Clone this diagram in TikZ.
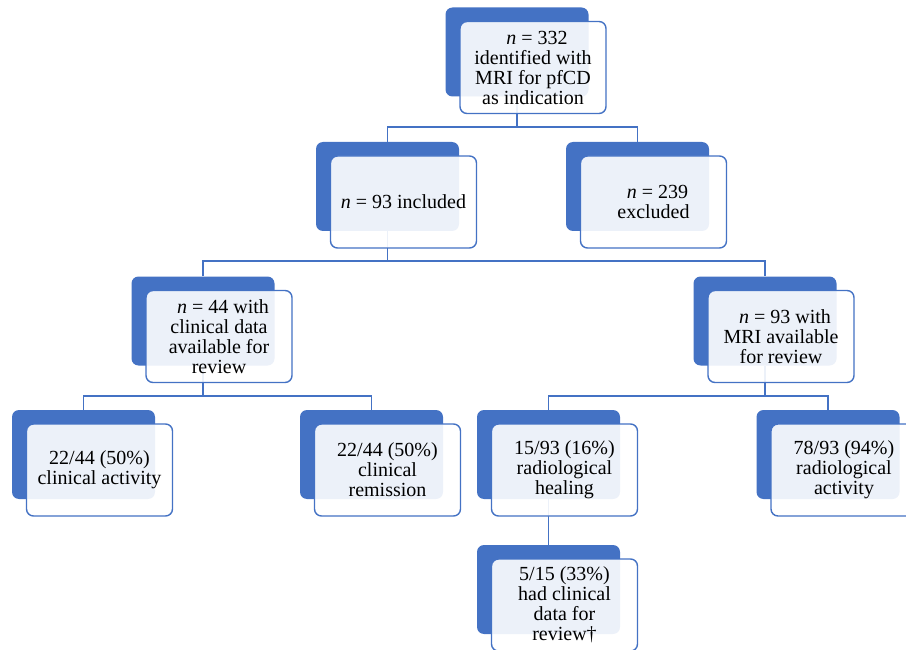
\documentclass[tikz,border=0pt]{standalone}
\usepackage{fontspec}
\setmainfont{Liberation Serif}
\usepackage{xcolor}
\usetikzlibrary{backgrounds}

\definecolor{boxblue}{HTML}{4472C4}

\tikzset{
    backbox/.style = {rectangle, rounded corners = 7pt, fill = boxblue,
        minimum width = 143pt, minimum height = 89pt, inner sep = 0pt},
    frontbox/.style = {rectangle, rounded corners = 7pt, draw = boxblue, line width = 1.4pt,
        fill = white, fill opacity = 0.9, text opacity = 1,
        minimum width = 146pt, minimum height = 92pt, inner sep = 0pt, align = center,
        font = \fontsize{20}{20}\selectfont},
    link/.style = {draw = boxblue, line width = 1.4pt}
}

\begin{document}
\begin{tikzpicture}[x = 1pt, y = -1pt]
        \useasboundingbox (0, 0) rectangle (906, 650);

        \node[backbox] (b332) at (517, 52) {};
        \node[frontbox] (f332) at ([shift = {(16, 15.5)}]b332)
            {\hspace*{8pt}\textit{n} = 332\\identified with\\MRI for pfCD\\as indication};

        \node[backbox] (b93i) at (387.5, 186.5) {};
        \node[frontbox] (f93i) at ([shift = {(16, 15.5)}]b93i)
            {\textit{n} = 93 included};
        \node[backbox] (b239) at (637.5, 186.5) {};
        \node[frontbox] (f239) at ([shift = {(16, 15.5)}]b239)
            {\hspace*{8pt}\textit{n} = 239\\excluded};

        \node[backbox] (b44) at (203, 321) {};
        \node[frontbox] (f44) at ([shift = {(16, 15.5)}]b44)
            {\hspace*{8pt}\textit{n} = 44 with\\clinical data\\available for\\review};
        \node[backbox] (bmri) at (765, 321) {};
        \node[frontbox] (fmri) at ([shift = {(16, 15.5)}]bmri)
            {\hspace*{8pt}\textit{n} = 93 with\\MRI available\\for review};

        \node[backbox] (bact) at (83.5, 454.5) {};
        \node[frontbox] (fact) at ([shift = {(16, 15.5)}]bact)
            {22/44 (50\%)\\clinical activity};
        \node[backbox] (brem) at (371.5, 454.5) {};
        \node[frontbox] (frem) at ([shift = {(16, 15.5)}]brem)
            {22/44 (50\%)\\clinical\\remission};
        \node[backbox] (bheal) at (548.5, 454.5) {};
        \node[frontbox] (fheal) at ([shift = {(16, 15.5)}]bheal)
            {15/93 (16\%)\\radiological\\healing};
        \node[backbox] (bradact) at (828, 454.5) {};
        \node[frontbox] (fradact) at ([shift = {(16, 15.5)}]bradact)
            {78/93 (94\%)\\radiological\\activity};

        \node[backbox] (b515) at (548.5, 589.5) {};
        \node[frontbox] (f515) at ([shift = {(16, 15.5)}]b515)
            {5/15 (33\%)\\had clinical\\data for\\review\textdagger};

        \begin{scope}[on background layer]
            \coordinate (j1) at (517, 127);
            \coordinate (j2) at (387.5, 261);
            \coordinate (j3) at (203, 396);
            \coordinate (j4) at (765, 396);

            \draw[link] (b332) -- (j1);
            \draw[link] (b93i) |- (j1) -| (b239);
            \draw[link] (b93i) -- (j2);
            \draw[link] (b44) |- (j2) -| (bmri);
            \draw[link] (b44) -- (j3);
            \draw[link] (bact) |- (j3) -| (brem);
            \draw[link] (bmri) -- (j4);
            \draw[link] (bheal) |- (j4) -| (bradact);
            \draw[link] (bheal) -- (b515);
        \end{scope}
\end{tikzpicture}
\end{document}
